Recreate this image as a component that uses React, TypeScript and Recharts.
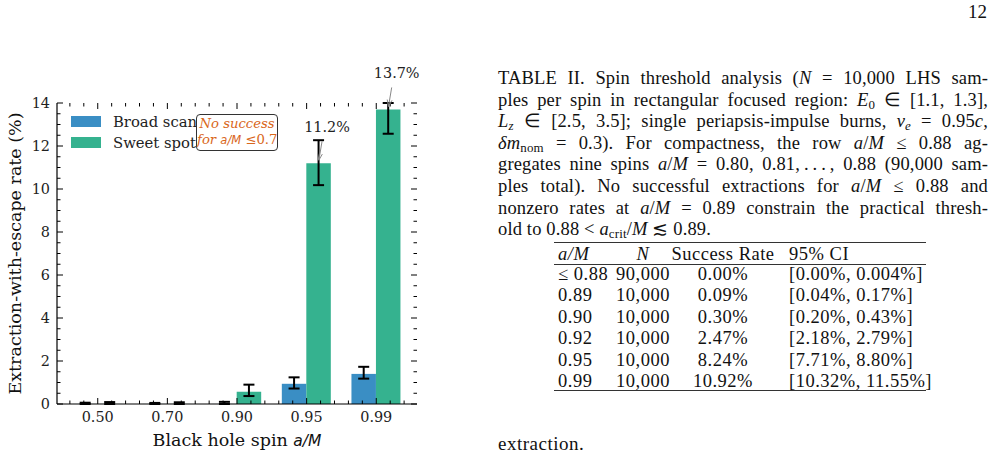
import React from 'react';
import { BarChart, Bar, XAxis, YAxis, ErrorBar, LabelList, Label } from 'recharts';

// spin values on the x axis
const spins = ['0.50', '0.70', '0.90', '0.95', '0.99'];

// Broad scan rate (%) and its 95% interval
const broadRate = [0.002, 0.002, 0.002, 0.94, 1.4];
const broadLo = [0, 0, 0, 0.72, 1.18];
const broadHi = [0.06, 0.05, 0.1, 1.24, 1.73];

// Sweet spot rate (%) and its 95% interval
const sweetRate = [0.002, 0.002, 0.57, 11.2, 13.7];
const sweetLo = [0, 0, 0.37, 10.18, 12.57];
const sweetHi = [0.09, 0.08, 0.9, 12.27, 14.0];

const annotatedValues = [11.2, 13.7];
const seriesNames = ['Broad scan', 'Sweet spot'];
const BLUE = '#3a8ec4';
const GREEN = '#35b28f';

const yTicks = Array.from({ length: 29 }, (_, i) => i * 0.5);
const xTicks = Array.from({ length: 25 }, (_, i) => Math.round((i * 0.2 - 0.4) * 10) / 10);

// table II
const tabSpin = ['≤ 0.88', '0.89', '0.90', '0.92', '0.95', '0.99'];
const tabN = ['90,000', '10,000', '10,000', '10,000', '10,000', '10,000'];
const tabRate = ['0.00%', '0.09%', '0.30%', '2.47%', '8.24%', '10.92%'];
const tabCI = ['[0.00%, 0.004%]', '[0.04%, 0.17%]', '[0.20%, 0.43%]', '[2.18%, 2.79%]', '[7.71%, 8.80%]', '[10.32%, 11.55%]'];

const data = spins.map((s, i) => ({
  x: i,
  spin: s,
  broad: broadRate[i],
  sweet: sweetRate[i],
  broadErr: [broadRate[i] - broadLo[i], broadHi[i] - broadRate[i]],
  sweetErr: [sweetRate[i] - sweetLo[i], sweetHi[i] - sweetRate[i]],
}));

// plot box (follows from the chart margins and axis sizes below)
const W = 430, H = 459;
const M = { top: 103, right: 13, bottom: 0, left: 0 };
const Y_AXIS_W = 57, X_AXIS_H = 55;
const P_LEFT = M.left + Y_AXIS_W;
const P_RIGHT = W - M.right;
const P_TOP = M.top;
const P_BOTTOM = H - M.bottom - X_AXIS_H;

const FONT = 'DejaVu Serif';
const isMajorX = (v: number) => Math.abs(v - Math.round(v)) < 1e-6;
const isMajorY = (v: number) => Math.abs(v / 2 - Math.round(v / 2)) < 1e-6;

// x ticks: drawn inward on bottom and top spines
const BottomTick = (p: any) => {
  const v = p.payload.value;
  const major = isMajorX(v);
  const len = major ? 6 : 3.5;
  return (
    <g>
      <path d={`M${p.x},${P_BOTTOM}V${P_BOTTOM - len}M${p.x},${P_TOP}V${P_TOP + len}`} stroke="#000" strokeWidth={1} fill="none" />
      {major && (
        <text x={p.x} y={P_BOTTOM + 17.5} textAnchor="middle" fontFamily={FONT} fontSize={14.4} fill="#222">
          {spins[Math.round(v)]}
        </text>
      )}
    </g>
  );
};

// y ticks: drawn inward on left and right spines
const LeftTick = (p: any) => {
  const v = p.payload.value;
  const major = isMajorY(v);
  const len = major ? 6 : 3.5;
  return (
    <g>
      <path d={`M${P_LEFT},${p.y}H${P_LEFT + len}M${P_RIGHT},${p.y}H${P_RIGHT - len}`} stroke="#000" strokeWidth={1} fill="none" />
      {major && (
        <text x={P_LEFT - 7} y={p.y + 5} textAnchor="end" fontFamily={FONT} fontSize={14.4} fill="#222">
          {v}
        </text>
      )}
    </g>
  );
};

const PeakLabel = (p: any) => {
  const { x, y, width, value } = p;
  if (!annotatedValues.includes(Number(value))) return null;
  const cx = Number(x) + Number(width) / 2;
  const top = Number(y);
  const x1 = cx + 3.5, y1 = top - 22, x2 = cx + 0.3, y2 = top - 3;
  const ang = Math.atan2(y2 - y1, x2 - x1);
  const h = 7;
  const a1 = ang + Math.PI - 0.35, a2 = ang + Math.PI + 0.35;
  return (
    <g>
      <text x={cx + 8.5} y={top - 31} textAnchor="middle" fontFamily={FONT} fontSize={14.4} fill="#222">
        {`${value}%`}
      </text>
      <line x1={x1} y1={y1} x2={x2} y2={y2} stroke="#888" strokeWidth={1} />
      <path
        d={`M${x2 + h * Math.cos(a1)},${y2 + h * Math.sin(a1)} L${x2},${y2} L${x2 + h * Math.cos(a2)},${y2 + h * Math.sin(a2)}`}
        fill="none"
        stroke="#888"
        strokeWidth={1}
      />
    </g>
  );
};

const YTitle = (p: any) => {
  const vb = p.viewBox;
  const cy = vb.y + vb.height / 2;
  return (
    <text x={21} y={cy} transform={`rotate(-90 21 ${cy})`} textAnchor="middle" fontFamily={FONT} fontSize={17.5} fill="#111">
      Extraction-with-escape rate (%)
    </text>
  );
};

const XTitle = (p: any) => {
  const vb = p.viewBox;
  return (
    <text x={vb.x + vb.width / 2} y={446} textAnchor="middle" fontFamily={FONT} fontSize={17.5} fill="#111">
      Black hole spin{' '}
      <tspan fontFamily="DejaVu Sans" fontStyle="italic" fontSize={15.5}>a/M</tspan>
    </text>
  );
};

const spine = { stroke: '#000', strokeWidth: 1.2 };

const SpinChart = () => (
  <div style={{ position: 'absolute', left: 0, top: 0 }}>
    <BarChart width={W} height={H} data={data} margin={M} barGap={0}>
      <XAxis
        dataKey="x"
        type="number"
        domain={[-0.585, 4.585]}
        ticks={xTicks}
        interval={0}
        height={X_AXIS_H}
        tickLine={false}
        tick={BottomTick}
        axisLine={spine}
      >
        <Label content={XTitle} />
      </XAxis>
      <XAxis xAxisId="top" orientation="top" dataKey="x" type="number" domain={[-0.585, 4.585]} height={0} tickLine={false} tick={false} axisLine={spine} />
      <YAxis type="number" domain={[0, 14]} ticks={yTicks} interval={0} width={Y_AXIS_W} tickLine={false} tick={LeftTick} axisLine={spine}>
        <Label content={YTitle} />
      </YAxis>
      <YAxis yAxisId="right" orientation="right" type="number" domain={[0, 14]} width={0} tickLine={false} tick={false} axisLine={spine} />
      <Bar dataKey="broad" name={seriesNames[0]} fill={BLUE} barSize={24.5} isAnimationActive={false}>
        <ErrorBar dataKey="broadErr" width={5.5} stroke="#000" strokeWidth={2} />
      </Bar>
      <Bar dataKey="sweet" name={seriesNames[1]} fill={GREEN} barSize={24.5} isAnimationActive={false}>
        <ErrorBar dataKey="sweetErr" width={5.5} stroke="#000" strokeWidth={2} />
        <LabelList dataKey="sweet" content={PeakLabel} />
      </Bar>
    </BarChart>
    <div style={{ position: 'absolute', left: 71, top: 110.5, fontFamily: FONT, fontSize: 14.8, color: '#222', whiteSpace: 'nowrap' }}>
      {seriesNames.map((n, i) => (
        <div key={n} style={{ display: 'flex', alignItems: 'center', height: 21.5 }}>
          <div style={{ width: 30, height: 11, background: i === 0 ? BLUE : GREEN, marginRight: 12 }} />
          <span>{n}</span>
        </div>
      ))}
    </div>
    <div
      style={{
        position: 'absolute',
        left: 196,
        top: 114,
        width: 80,
        height: 34,
        border: '1.5px solid #333',
        borderRadius: 4,
        background: '#fff',
        color: '#d9661a',
        fontFamily: FONT,
        fontSize: 13.2,
        fontStyle: 'italic',
        textAlign: 'center',
        lineHeight: '16px',
        paddingTop: 1,
        whiteSpace: 'nowrap',
      }}
    >
      <div>No success</div>
      <div>
        for <span style={{ fontFamily: 'DejaVu Sans', fontSize: 11.5 }}>a/M</span>
        <span style={{ fontStyle: 'normal' }}> ≤0.7</span>
      </div>
    </div>
  </div>
);

const lineStyle: React.CSSProperties = {
  height: 21.6,
  lineHeight: '21.6px',
  textAlign: 'justify',
  textAlignLast: 'justify',
};
const subStyle: React.CSSProperties = { fontSize: '0.7em', verticalAlign: '-0.25em', lineHeight: 0 };

const Caption = () => (
  <div
    style={{
      position: 'absolute',
      left: 498,
      top: 68,
      width: 490,
      fontFamily: 'Liberation Serif',
      fontSize: 18.5,
      letterSpacing: 0.15,
      color: '#111',
    }}
  >
    <div style={lineStyle}>TABLE II. Spin threshold analysis (<i>N</i> = 10,000 LHS sam-</div>
    <div style={lineStyle}>
      ples per spin in rectangular focused region: <i>E</i><sub style={subStyle}>0</sub> ∈ [1.1, 1.3],
    </div>
    <div style={lineStyle}>
      <i>L</i><sub style={{ ...subStyle, fontStyle: 'italic' }}>z</sub> ∈ [2.5, 3.5]; single periapsis-impulse burns, <i>v</i>
      <sub style={{ ...subStyle, fontStyle: 'italic' }}>e</sub> = 0.95<i>c</i>,
    </div>
    <div style={lineStyle}>
      <i>δm</i><sub style={subStyle}>nom</sub> = 0.3). For compactness, the row <i>a</i>/<i>M</i> ≤ 0.88 ag-
    </div>
    <div style={lineStyle}>
      gregates nine spins <i>a</i>/<i>M</i> = 0.80, 0.81,&thinsp;.&thinsp;.&thinsp;.&thinsp;, 0.88 (90,000 sam-
    </div>
    <div style={lineStyle}>
      ples total). No successful extractions for <i>a</i>/<i>M</i> ≤ 0.88 and
    </div>
    <div style={lineStyle}>
      nonzero rates at <i>a</i>/<i>M</i> = 0.89 constrain the practical thresh-
    </div>
    <div style={{ ...lineStyle, textAlign: 'left', textAlignLast: 'left' }}>
      old to 0.88 &lt; <i>a</i><sub style={subStyle}>crit</sub>/<i>M</i> ≲ 0.89.
    </div>
  </div>
);

const rowH = 21.4;
const firstRow = 274;

const Table = () => {
  const cell = (top: number, key: string, a: React.ReactNode, n: React.ReactNode, r: React.ReactNode, c: React.ReactNode) => (
    <div key={key} style={{ position: 'absolute', left: 0, top, width: 994, height: 22, lineHeight: '22px', whiteSpace: 'nowrap' }}>
      <span style={{ position: 'absolute', left: 558 }}>{a}</span>
      <span style={{ position: 'absolute', left: 596, width: 94, textAlign: 'center' }}>{n}</span>
      <span style={{ position: 'absolute', left: 664, width: 118, textAlign: 'center' }}>{r}</span>
      <span style={{ position: 'absolute', left: 789 }}>{c}</span>
    </div>
  );
  return (
    <div style={{ position: 'absolute', left: 0, top: 0, fontFamily: 'Liberation Serif', fontSize: 18.5, letterSpacing: 0.5, color: '#111' }}>
      <div style={{ position: 'absolute', left: 554, top: 242, width: 372, height: 1.3, background: '#333' }} />
      {cell(243, 'h', <i>a/M</i>, <i>N</i>, 'Success Rate', '95% CI')}
      <div style={{ position: 'absolute', left: 554, top: 264, width: 372, height: 1.1, background: '#333' }} />
      {tabSpin.map((s, i) => cell(firstRow + i * rowH - 11, s, s, tabN[i], tabRate[i], tabCI[i]))}
      <div style={{ position: 'absolute', left: 554, top: 389.5, width: 372, height: 1.3, background: '#333' }} />
    </div>
  );
};

export default function App() {
  return (
    <div style={{ position: 'absolute', left: 0, top: 0, width: 994, height: 459, background: '#fff', overflow: 'hidden' }}>
      <SpinChart />
      <Caption />
      <Table />
      <div style={{ position: 'absolute', left: 900, top: 1, width: 87, textAlign: 'right', fontFamily: 'Liberation Serif', fontSize: 19, color: '#111' }}>
        12
      </div>
      <div style={{ position: 'absolute', left: 498, top: 433, fontFamily: 'Liberation Serif', fontSize: 19, letterSpacing: 0.5, color: '#111' }}>
        extraction.
      </div>
    </div>
  );
}
